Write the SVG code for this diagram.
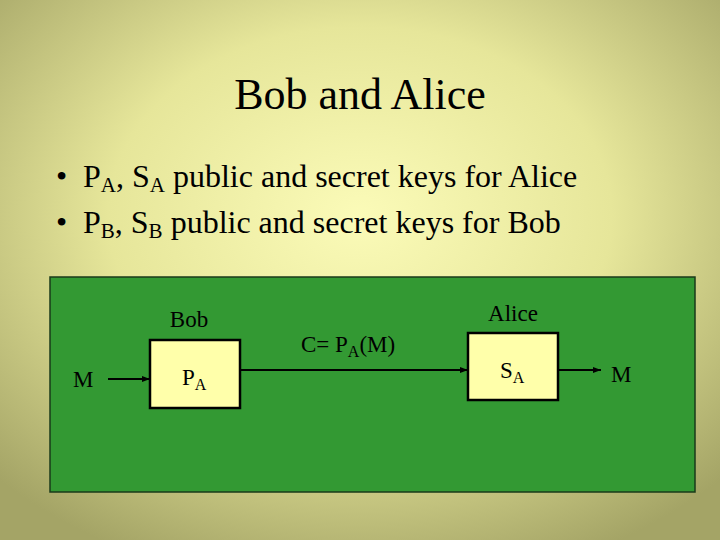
<svg xmlns="http://www.w3.org/2000/svg" width="720" height="540" viewBox="0 0 720 540">
<defs>
<radialGradient id="bg" cx="50%" cy="40%" r="70%">
<stop offset="0" stop-color="#fbfbb8"/><stop offset="0.5" stop-color="#e6e69a"/><stop offset="1" stop-color="#a4a466"/>
</radialGradient>
<marker id="ah" markerWidth="8" markerHeight="8" refX="8" refY="4" orient="auto" markerUnits="userSpaceOnUse"><path d="M0,1 L8,4 L0,7 z" fill="#000"/></marker>
<style>
text{font-family:"Liberation Serif",serif;fill:#000}
.box{fill:#ffffaa;stroke:#000;stroke-width:2.5}
.ln{stroke:#000;stroke-width:2;fill:none;marker-end:url(#ah)}
.s{font-size:23px}
</style>
</defs>
<rect width="720" height="540" fill="url(#bg)"/>
<text x="360" y="109" font-size="44" text-anchor="middle">Bob and Alice</text>
<text x="56" y="187" font-size="32">•<tspan x="83">P<tspan font-size="21" dy="5">A</tspan><tspan dy="-5">, S</tspan><tspan font-size="21" dy="5">A</tspan><tspan dy="-5"> public and secret keys for Alice</tspan></tspan></text>
<text x="56" y="233" font-size="32">•<tspan x="83">P<tspan font-size="21" dy="5">B</tspan><tspan dy="-5">, S</tspan><tspan font-size="21" dy="5">B</tspan><tspan dy="-5"> public and secret keys for Bob</tspan></tspan></text>
<rect x="50" y="277" width="645" height="215" fill="#339933" stroke="#1a3a1a" stroke-width="1.5"/>
<g id="bob"><text x="189" y="327" class="s" text-anchor="middle">Bob</text><rect class="box" x="150" y="340" width="90" height="68"/><text x="182" y="385" class="s">P<tspan font-size="16" dy="5">A</tspan></text></g>
<g id="alice"><text x="513" y="321" class="s" text-anchor="middle">Alice</text><rect class="box" x="468" y="333" width="90" height="67"/><text x="500" y="378" class="s">S<tspan font-size="16" dy="5">A</tspan></text></g>
<g id="min"><text x="73" y="387" class="s">M</text></g>
<g id="mout"><text x="611" y="382" class="s">M</text></g>
<g id="lbl"><text x="301" y="352" class="s">C= P<tspan font-size="16" dy="5">A</tspan><tspan dy="-5">(M)</tspan></text></g>
<g id="connectors">
<line class="ln" x1="108" y1="379" x2="150" y2="379"/>
<line class="ln" x1="240" y1="370" x2="468" y2="370"/>
<line class="ln" x1="558" y1="370" x2="601" y2="370"/>
</g>
</svg>
